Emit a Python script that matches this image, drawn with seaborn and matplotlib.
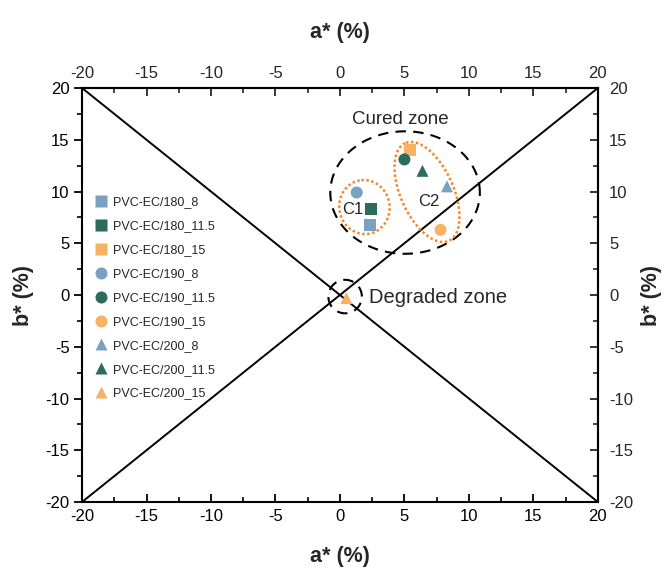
import numpy as np
import pandas as pd
import seaborn as sns
import matplotlib
matplotlib.use("Agg")
import matplotlib.pyplot as plt
from matplotlib.ticker import MultipleLocator

sns.set_theme(style="white")
plt.rcParams["font.family"] = ["Liberation Sans", "DejaVu Sans"]
plt.rcParams["axes.unicode_minus"] = False

# Colour coordinates of each sample
samples = ["PVC-EC/180_8", "PVC-EC/180_11.5", "PVC-EC/180_15",
           "PVC-EC/190_8", "PVC-EC/190_11.5", "PVC-EC/190_15",
           "PVC-EC/200_8", "PVC-EC/200_11.5", "PVC-EC/200_15"]
a_star = [2.3, 2.4, 5.4, 1.3, 5.0, 7.8, 8.3, 6.4, 0.5]
b_star = [6.8, 8.3, 14.0, 9.9, 13.1, 6.3, 10.5, 12.0, -0.3]

blue, green, orange = "#7aa0c2", "#2f6b5c", "#f7b263"
colors = [blue, green, orange] * 3
shapes = ["s"] * 3 + ["o"] * 3 + ["^"] * 3

df = pd.DataFrame({"a": a_star, "b": b_star, "sample": samples})

fig = plt.figure(figsize=(6.68, 5.73), dpi=100)
ax = fig.add_axes([0.1228, 0.1239, 0.7722, 0.7225])

# Diagonal reference lines
ax.plot([-20, 20], [-20, 20], color="black", lw=1.4, zorder=1)
ax.plot([-20, 20], [20, -20], color="black", lw=1.4, zorder=1)

sns.scatterplot(data=df, x="a", y="b", hue="sample", style="sample",
                palette=dict(zip(samples, colors)),
                markers=dict(zip(samples, shapes)),
                s=75, edgecolor="none", ax=ax, zorder=3)

# Zone outlines: ellipses that look true in screen space
k = (0.7722 * 668) / (0.7225 * 573)


def zone(cx, cy, a, b, ang, **kw):
    t = np.linspace(0, 2 * np.pi, 300)
    phi = np.deg2rad(ang)
    x = cx + a * np.cos(t) * np.cos(phi) - b * np.sin(t) * np.sin(phi)
    y = cy + (a * np.cos(t) * np.sin(phi) + b * np.sin(t) * np.cos(phi)) * k
    ax.plot(x, y, **kw)


dash = dict(color="black", lw=1.5, ls=(0, (5, 3.5)), zorder=2)
dots = dict(color="#f5862a", lw=1.8, ls=(0, (1, 1)), zorder=2)
zone(5.05, 9.9, 5.8, 4.75, 0, **dash)
zone(0.4, -0.15, 1.3, 1.3, 0, **dash)
zone(1.9, 8.5, 2.1, 1.95, 100, **dots)
zone(6.75, 9.95, 4.15, 2.05, 114, **dots)

ax.text(4.65, 16.95, "Cured zone", fontsize=13.5, ha="center", va="center")
ax.text(1.0, 8.3, "C1", fontsize=12, ha="center", va="center")
ax.text(6.9, 9.0, "C2", fontsize=12, ha="center", va="center")
ax.text(2.25, -0.2, "Degraded zone", fontsize=14.5, ha="left", va="center")

ax.set_xlim(-20, 20)
ax.set_ylim(-20, 20)
for sp in ax.spines.values():
    sp.set_visible(True)
    sp.set_color("black")
    sp.set_linewidth(1.5)

ax.xaxis.set_major_locator(MultipleLocator(5))
ax.xaxis.set_minor_locator(MultipleLocator(2.5))
ax.yaxis.set_major_locator(MultipleLocator(5))
ax.yaxis.set_minor_locator(MultipleLocator(2.5))
ax.tick_params(axis="x", which="both", direction="in", bottom=True,
               labelsize=12, pad=5, colors="black")
ax.tick_params(axis="y", which="both", direction="out", left=True,
               labelsize=12, pad=3, colors="black")
ax.tick_params(which="major", length=6, width=1.3)
ax.tick_params(which="minor", length=3.5, width=1.2)

ax.set_xlabel("a* (%)", fontsize=15.5, fontweight="bold", labelpad=16)
ax.set_ylabel("b* (%)", fontsize=15.5, fontweight="bold", labelpad=8)

top = ax.secondary_xaxis("top")
top.xaxis.set_major_locator(MultipleLocator(5))
top.xaxis.set_minor_locator(MultipleLocator(2.5))
top.tick_params(which="both", direction="in", labelsize=12, pad=5)
top.tick_params(which="major", length=6, width=1.3)
top.tick_params(which="minor", length=3.5, width=1.2)
top.set_xlabel("a* (%)", fontsize=15.5, fontweight="bold", labelpad=20)
top.spines["top"].set_linewidth(1.5)
top.xaxis.offsetText.set_visible(False)

right = ax.secondary_yaxis("right")
right.yaxis.set_major_locator(MultipleLocator(5))
right.yaxis.set_minor_locator(MultipleLocator(2.5))
right.tick_params(which="both", direction="in", labelsize=12, pad=8)
right.tick_params(which="major", length=6, width=1.3)
right.tick_params(which="minor", length=3.5, width=1.2)
right.set_ylabel("b* (%)", fontsize=15.5, fontweight="bold", labelpad=6)
right.spines["right"].set_linewidth(1.5)
right.yaxis.offsetText.set_visible(False)

leg = ax.legend(loc="upper left", bbox_to_anchor=(0.0, 0.762), frameon=False,
                fontsize=9, handletextpad=0.25, labelspacing=0.95,
                handlelength=1.4, borderaxespad=0.4, markerscale=1.0)
for h in leg.legend_handles:
    if hasattr(h, "set_sizes"):
        h.set_sizes([75])

fig.savefig("out.png", dpi=100)
